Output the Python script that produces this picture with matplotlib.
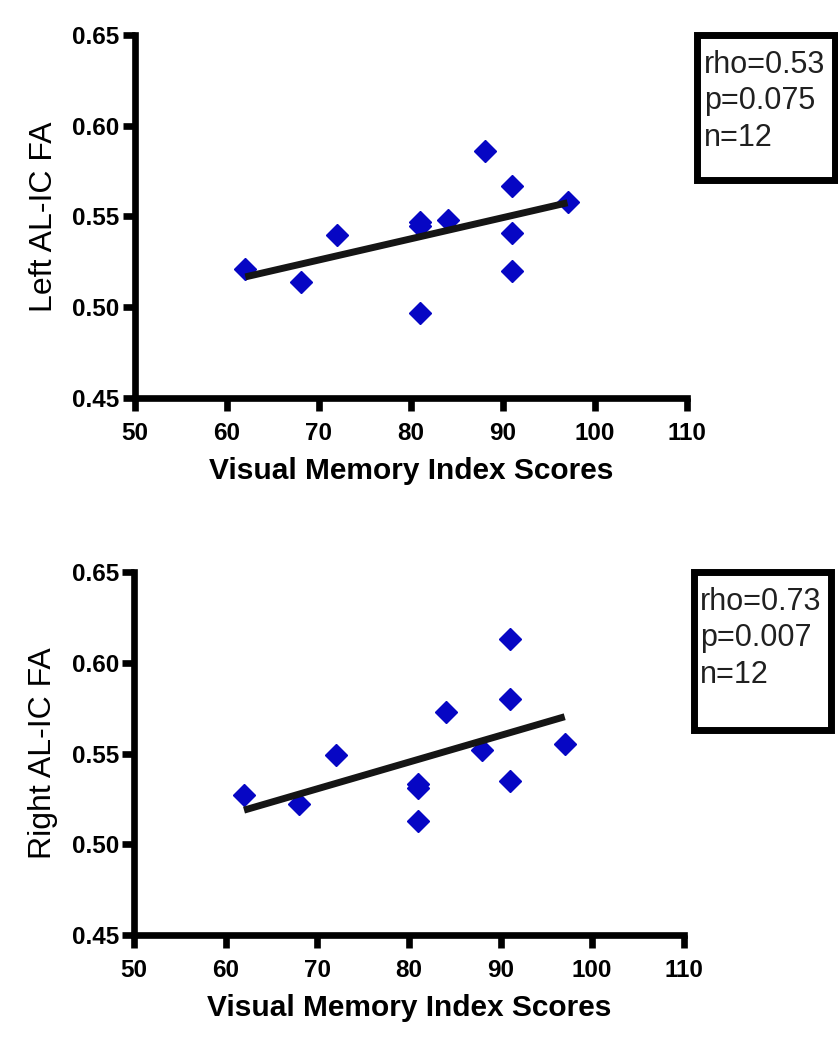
import numpy as np
import matplotlib
matplotlib.use('Agg')
import matplotlib.pyplot as plt
from matplotlib.patches import Rectangle

# データ
scores = [62, 68, 72, 81, 81, 81, 84, 88, 91, 91, 91, 97]
leftFA = [0.521, 0.514, 0.540, 0.545, 0.547, 0.497, 0.548, 0.586, 0.567, 0.541, 0.520, 0.558]
rightFA = [0.527, 0.522, 0.549, 0.531, 0.533, 0.513, 0.573, 0.552, 0.613, 0.580, 0.535, 0.555]
leftStats = "rho=0.53\np=0.075\nn=12"
rightStats = "rho=0.73\np=0.007\nn=12"
xTicks = [50, 60, 70, 80, 90, 100, 110]
yTicks = [0.45, 0.50, 0.55, 0.60, 0.65]

plt.rcParams['font.family'] = ['Liberation Sans', 'DejaVu Sans']

blue = '#0606C4'


def drawPanel(ax, xs, ys, ylabel, stats, boxBottom):
    xs = np.array(xs)
    ys = np.array(ys)

    # 回帰直線
    slope, icpt = np.polyfit(xs, ys, 1)
    lx = np.array([xs.min(), xs.max()])
    ax.plot(lx, slope * lx + icpt, color='#151515', lw=5, zorder=3, solid_capstyle='butt')
    ax.plot(xs, ys, linestyle='none', marker='D', markersize=11.5, color=blue, zorder=2)

    ax.set_xlim(50, 110)
    ax.set_ylim(0.45, 0.65)
    ax.set_xticks(xTicks)
    ax.set_yticks(yTicks)
    ax.set_yticklabels(["%.2f" % v for v in yTicks])
    for s in ['top', 'right']:
        ax.spines[s].set_visible(False)
    for s in ['left', 'bottom']:
        ax.spines[s].set_linewidth(4.8)
    ax.tick_params(axis='both', length=9, width=4.8, labelsize=17.5)
    ax.tick_params(axis='x', pad=8)
    ax.tick_params(axis='y', pad=2)
    for lab in ax.get_xticklabels() + ax.get_yticklabels():
        lab.set_fontweight('bold')
    ax.set_xlabel("Visual Memory Index Scores", fontsize=21.5, fontweight='bold', labelpad=9)
    ax.set_ylabel(ylabel, fontsize=23, labelpad=10)

    # 統計ボックス
    box = Rectangle((1.018, boxBottom), 0.25, 1.0 - boxBottom, transform=ax.transAxes,
                    fill=True, fc='white', ec='black', lw=5, clip_on=False)
    ax.add_patch(box)
    ax.text(1.03, 0.958, stats, transform=ax.transAxes, ha='left', va='top',
            fontsize=22, linespacing=1.27, color='#202020')


fig = plt.figure(figsize=(8.38, 10.5), dpi=100)
ax1 = fig.add_axes([0.161, 0.621, 0.659, 0.3457])
ax2 = fig.add_axes([0.160, 0.1095, 0.656, 0.3457])

drawPanel(ax1, scores, leftFA, "Left AL-IC FA", leftStats, 0.60)
drawPanel(ax2, scores, rightFA, "Right AL-IC FA", rightStats, 0.565)

plt.savefig("out.png", dpi=100)
